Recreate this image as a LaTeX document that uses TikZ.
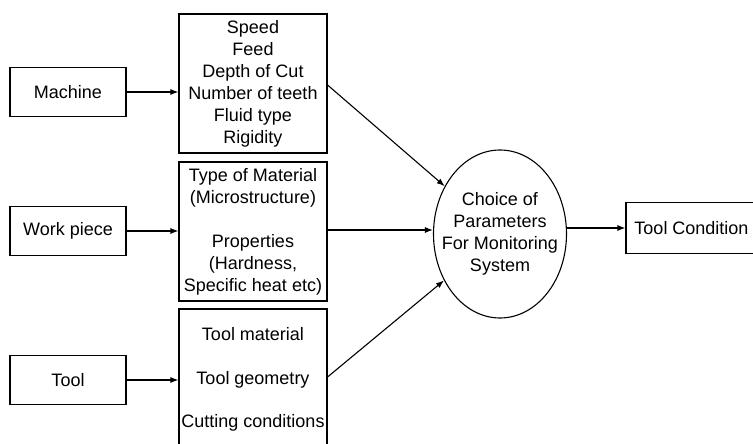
\documentclass[tikz,border=0pt]{standalone}
\usepackage{fontspec}
\setmainfont{Liberation Sans}
\usetikzlibrary{shapes.geometric,arrows.meta}
\begin{document}
\begin{tikzpicture}[x=1pt,y=-1pt,
  every node/.style={font=\fontsize{18}{22}\selectfont},
  srcbox/.style={draw,line width=1.1pt,minimum width=116pt,minimum height=49pt,inner sep=0pt},
  midbox/.style={draw,line width=1.1pt,minimum width=148pt,minimum height=139pt,inner sep=0pt,align=center},
  conn/.style={line width=1.1pt,-{Latex[length=8pt,width=6pt]}}]
\useasboundingbox (0,0) rectangle (753,444);
\node[srcbox] (machine) at (68,92) {Machine};
\node[srcbox] (work) at (68,231) {Work piece};
\node[srcbox] (tool) at (68,380) {Tool};
\node[midbox] (box1) at (253,83.5) {Speed\\Feed\\Depth of Cut\\Number of teeth\\Fluid type\\Rigidity};
\node[midbox] (box2) at (253,231.5) {Type of Material\\(Microstructure)\\[22pt]Properties\\(Hardness,\\Specific heat etc)};
\node[midbox,minimum height=141pt] (box3) at (253,379.5) {Tool material\\[21.5pt]Tool geometry\\[21.5pt]Cutting conditions};
\node[draw,ellipse,line width=1.1pt,minimum width=133pt,minimum height=168pt,inner sep=0pt] (ell) at (500,234) {};
\node[align=center,inner sep=0pt] (elltext) at (ell.center) {Choice of\\Parameters\\For Monitoring\\System};
\node[draw,line width=1.1pt,minimum width=131pt,minimum height=51pt,inner sep=0pt] (tc) at (691.5,228) {Tool Condition};
\draw[conn] (machine.east) -- (box1.west |- machine.east);
\draw[conn] (work.east) -- (box2.west |- work.east);
\draw[conn] (tool.east) -- (box3.west |- tool.east);
\path (box1.east) ++(0,1.5) coordinate (u1);
\path (box3.east) ++(0,-2.5) coordinate (l1);
\draw[conn] (u1) -- (ell);
\draw[conn] (l1) -- (ell);
\draw[conn] (box2.east) ++(0,-1.5) coordinate (m1) -- (m1 -| ell.west);
\draw[conn] (ell.east |- tc.west) -- (tc.west);
\end{tikzpicture}
\end{document}
